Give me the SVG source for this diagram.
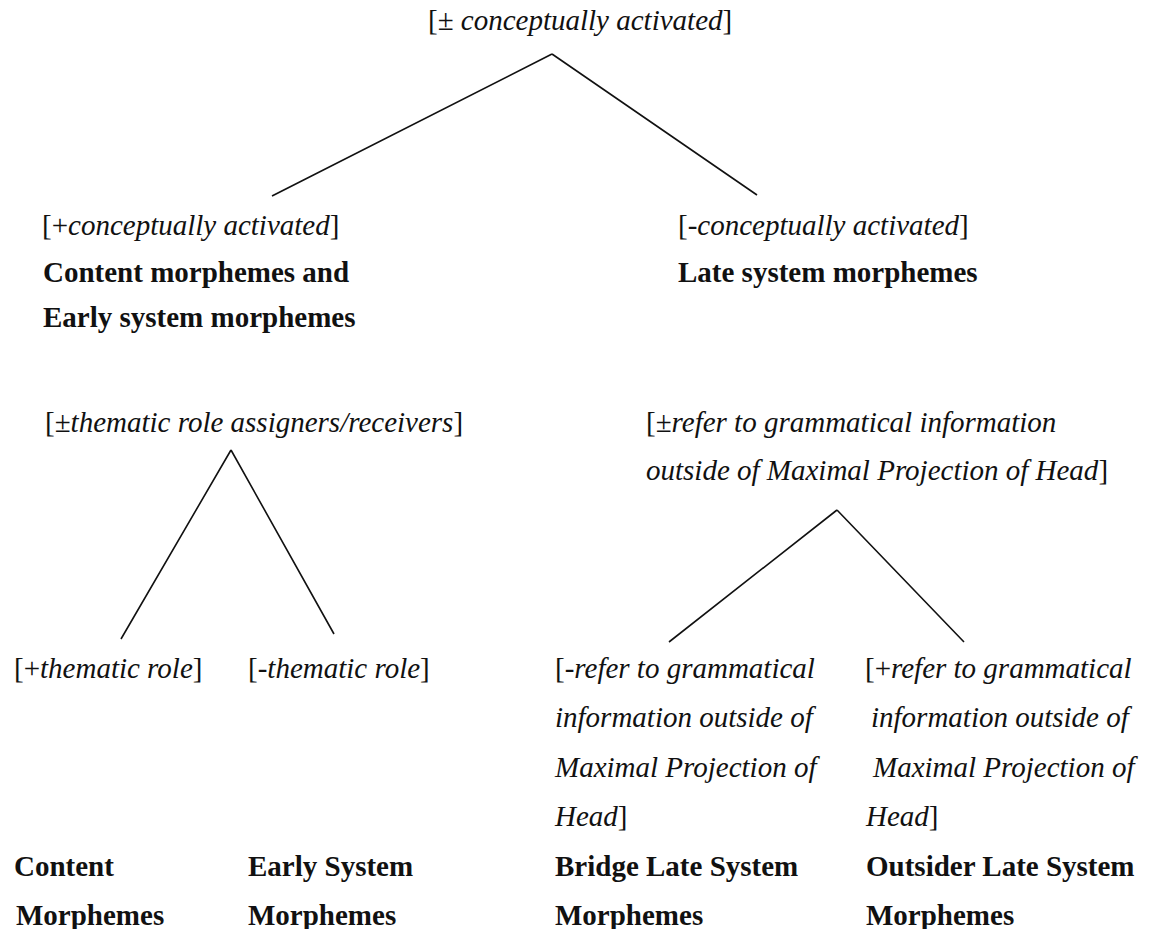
<svg xmlns="http://www.w3.org/2000/svg" width="1150" height="929" viewBox="0 0 1150 929">
<style>
text{font-family:"Liberation Serif","Times New Roman",serif;font-size:29px;fill:#111}
.i{font-style:italic}
.b{font-weight:bold}
.edge{stroke:#111;stroke-width:1.6;fill:none}
</style>
<rect width="1150" height="929" fill="#fff"/>
<g id="connectors">
<path class="edge" d="M552,54 L272,196 M552,54 L757,195"/>
<path class="edge" d="M231,450 L121,639 M231,450 L334,634"/>
<path class="edge" d="M837,510 L669,642 M837,510 L964,642"/>
</g>
<g id="root"><text x="428" y="30">[± <tspan class="i">conceptually activated</tspan>]</text></g>
<g id="plus-conceptual">
<text x="42" y="235">[+<tspan class="i">conceptually activated</tspan>]</text>
<text x="43" y="282" class="b">Content morphemes and</text>
<text x="43" y="327" class="b">Early system morphemes</text>
</g>
<g id="minus-conceptual">
<text x="678" y="235">[-<tspan class="i">conceptually activated</tspan>]</text>
<text x="678" y="282" class="b">Late system morphemes</text>
</g>
<g id="thematic">
<text x="45" y="432">[±<tspan class="i">thematic role assigners/receivers</tspan>]</text>
</g>
<g id="refer">
<text x="646" y="432">[±<tspan class="i">refer to grammatical information</tspan></text>
<text x="646" y="480"><tspan class="i">outside of Maximal Projection of Head</tspan>]</text>
</g>
<g id="plus-thematic">
<text x="14" y="678">[+<tspan class="i">thematic role</tspan>]</text>
<text x="14" y="876" class="b">Content</text>
<text x="16" y="925" class="b">Morphemes</text>
</g>
<g id="minus-thematic">
<text x="248" y="678">[-<tspan class="i">thematic role</tspan>]</text>
<text x="248" y="876" class="b">Early System</text>
<text x="248" y="925" class="b">Morphemes</text>
</g>
<g id="minus-refer">
<text x="555" y="678">[<tspan class="i">-refer to grammatical</tspan></text>
<text x="555" y="727" class="i">information outside of</text>
<text x="555" y="777" class="i">Maximal Projection of</text>
<text x="555" y="826"><tspan class="i">Head</tspan>]</text>
<text x="555" y="876" class="b">Bridge Late System</text>
<text x="555" y="925" class="b">Morphemes</text>
</g>
<g id="plus-refer">
<text x="865" y="678">[+<tspan class="i">refer to grammatical</tspan></text>
<text x="871" y="727" class="i">information outside of</text>
<text x="873" y="777" class="i">Maximal Projection of</text>
<text x="866" y="826"><tspan class="i">Head</tspan>]</text>
<text x="866" y="876" class="b">Outsider Late System</text>
<text x="866" y="925" class="b">Morphemes</text>
</g>
</svg>
